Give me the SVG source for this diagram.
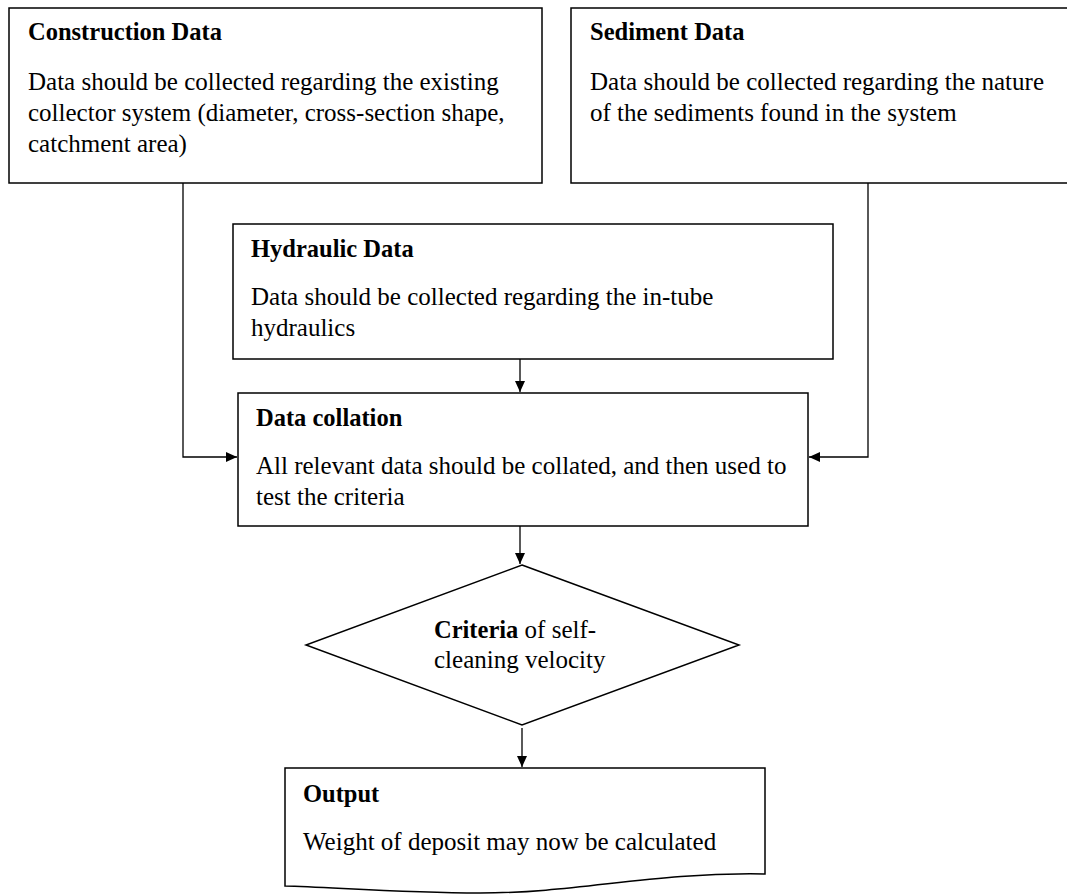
<svg xmlns="http://www.w3.org/2000/svg" width="1067" height="895" viewBox="0 0 1067 895">
<defs>
<style>
.box{fill:#fff;stroke:#000;stroke-width:1.5}
.t{font-family:"Liberation Serif","Times New Roman",serif;font-size:25px;fill:#000}
.b{font-weight:bold;font-size:24.5px}
.c{fill:none;stroke:#000;stroke-width:1.3}
</style>
<marker id="ah" markerWidth="12" markerHeight="12" refX="11" refY="6" orient="auto" markerUnits="userSpaceOnUse">
<path d="M0,1 L11,6 L0,11 Z" fill="#000"/>
</marker>
</defs>
<rect width="1067" height="895" fill="#fff"/>
<g id="connectors">
<path class="c" d="M183,183 V457 H237" marker-end="url(#ah)"/>
<path class="c" d="M868,183 V457 H809" marker-end="url(#ah)"/>
<path class="c" d="M520,359 V392" marker-end="url(#ah)"/>
<path class="c" d="M520,526 V564" marker-end="url(#ah)"/>
<path class="c" d="M522,728 V767" marker-end="url(#ah)"/>
</g>
<g id="construction">
<rect class="box" x="9" y="8" width="533" height="175"/>
<text class="t b" x="28" y="40">Construction Data</text>
<text class="t" x="28" y="90">Data should be collected regarding the existing</text>
<text class="t" x="28" y="121">collector system (diameter, cross-section shape,</text>
<text class="t" x="28" y="152">catchment area)</text>
</g>
<g id="sediment">
<rect class="box" x="571" y="8" width="510" height="175"/>
<text class="t b" x="590" y="40">Sediment Data</text>
<text class="t" x="590" y="90">Data should be collected regarding the nature</text>
<text class="t" x="590" y="121">of the sediments found in the system</text>
</g>
<g id="hydraulic">
<rect class="box" x="233" y="224" width="600" height="135"/>
<text class="t b" x="251" y="257">Hydraulic Data</text>
<text class="t" x="251" y="305">Data should be collected regarding the in-tube</text>
<text class="t" x="251" y="336">hydraulics</text>
</g>
<g id="collation">
<rect class="box" x="238" y="393" width="570" height="133"/>
<text class="t b" x="256" y="426">Data collation</text>
<text class="t" x="256" y="474">All relevant data should be collated, and then used to</text>
<text class="t" x="256" y="505">test the criteria</text>
</g>
<g id="criteria">
<polygon class="box" points="522,565 739,645 522,725 306,645"/>
<text class="t" x="434" y="638"><tspan font-weight="bold" font-size="24.5">Criteria</tspan> of self-</text>
<text class="t" x="434" y="668">cleaning velocity</text>
</g>
<g id="output">
<path class="box" d="M285,768 H765 V874 C650,872 580,893 480,893 C400,893 330,887 285,886 Z"/>
<text class="t b" x="303" y="802">Output</text>
<text class="t" x="303" y="850">Weight of deposit may now be calculated</text>
</g>
</svg>
